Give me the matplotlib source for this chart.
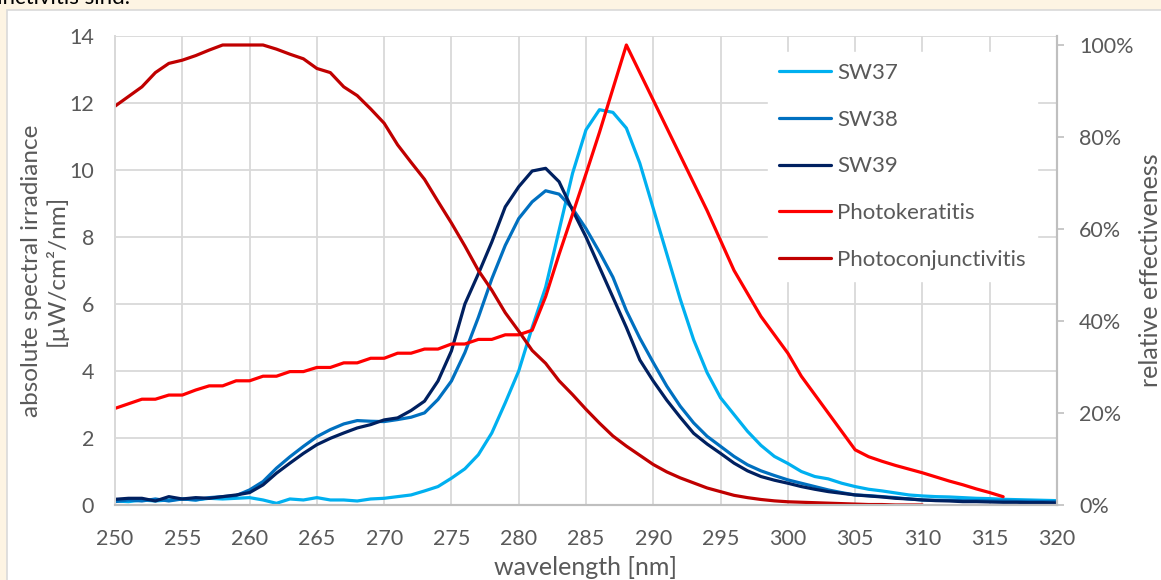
import matplotlib
matplotlib.use("Agg")
import matplotlib.pyplot as plt
from matplotlib.patches import Rectangle
from matplotlib.ticker import FuncFormatter

plt.rcParams['font.family'] = ['Lato', 'DejaVu Sans']

# ---------------- data ----------------
wl = list(range(250, 321))

sw37 = [0.12, 0.10, 0.15, 0.12, 0.15, 0.18, 0.15, 0.20, 0.18, 0.20,
        0.22, 0.15, 0.05, 0.18, 0.15, 0.22, 0.15, 0.15, 0.12, 0.18,
        0.20, 0.25, 0.30, 0.42, 0.55, 0.80, 1.08, 1.50, 2.15, 3.05,
        4.00, 5.30, 6.50, 8.20, 9.90, 11.20, 11.80, 11.72, 11.25, 10.20,
        8.85, 7.50, 6.15, 4.93, 3.95, 3.20, 2.70, 2.20, 1.78, 1.45,
        1.24, 1.00, 0.85, 0.78, 0.65, 0.55, 0.47, 0.42, 0.36, 0.30,
        0.27, 0.25, 0.24, 0.22, 0.20, 0.19, 0.17, 0.16, 0.15, 0.14,
        0.13]

sw38 = [0.10, 0.15, 0.12, 0.18, 0.12, 0.18, 0.15, 0.22, 0.25, 0.28,
        0.45, 0.70, 1.10, 1.44, 1.75, 2.04, 2.25, 2.42, 2.52, 2.50,
        2.49, 2.55, 2.62, 2.75, 3.15, 3.70, 4.55, 5.60, 6.75, 7.75,
        8.55, 9.05, 9.38, 9.28, 8.85, 8.25, 7.55, 6.80, 5.80, 4.98,
        4.25, 3.55, 2.95, 2.45, 2.05, 1.75, 1.45, 1.20, 1.02, 0.88,
        0.75, 0.65, 0.55, 0.45, 0.37, 0.30, 0.28, 0.25, 0.22, 0.18,
        0.15, 0.14, 0.14, 0.13, 0.13, 0.12, 0.12, 0.11, 0.11, 0.10,
        0.10]

sw39 = [0.17, 0.20, 0.20, 0.12, 0.25, 0.18, 0.22, 0.20, 0.25, 0.30,
        0.37, 0.60, 0.95, 1.25, 1.54, 1.80, 1.99, 2.15, 2.30, 2.40,
        2.54, 2.60, 2.82, 3.10, 3.70, 4.60, 6.00, 6.90, 7.85, 8.90,
        9.50, 9.97, 10.05, 9.65, 8.80, 8.00, 7.10, 6.20, 5.30, 4.33,
        3.70, 3.13, 2.62, 2.14, 1.82, 1.54, 1.25, 1.02, 0.85, 0.74,
        0.65, 0.55, 0.47, 0.40, 0.35, 0.30, 0.27, 0.24, 0.20, 0.18,
        0.15, 0.13, 0.12, 0.10, 0.10, 0.09, 0.08, 0.08, 0.07, 0.07,
        0.06]

kera_wl = list(range(250, 317))
kera = [0.210, 0.220, 0.230, 0.230, 0.239, 0.239, 0.250, 0.259, 0.259, 0.270,
        0.270, 0.280, 0.280, 0.290, 0.290, 0.299, 0.299, 0.309, 0.309, 0.319,
        0.319, 0.330, 0.330, 0.339, 0.339, 0.350, 0.350, 0.360, 0.360, 0.370,
        0.370, 0.380, 0.453, 0.545, 0.632, 0.720, 0.810, 0.905, 1.000, 0.940,
        0.880, 0.820, 0.760, 0.700, 0.640, 0.575, 0.510, 0.460, 0.410, 0.370,
        0.330, 0.280, 0.240, 0.200, 0.160, 0.120, 0.105, 0.095, 0.086, 0.078,
        0.070, 0.061, 0.052, 0.044, 0.035, 0.027, 0.018]

conj_wl = list(range(250, 311))
conj = [0.867, 0.888, 0.909, 0.940, 0.960, 0.967, 0.977, 0.989, 1.000, 1.000,
        1.000, 1.000, 0.991, 0.980, 0.970, 0.949, 0.940, 0.909, 0.890, 0.861,
        0.830, 0.783, 0.745, 0.708, 0.660, 0.613, 0.563, 0.510, 0.467, 0.418,
        0.378, 0.336, 0.308, 0.270, 0.240, 0.208, 0.178, 0.150, 0.128, 0.108,
        0.088, 0.072, 0.059, 0.048, 0.037, 0.029, 0.021, 0.016, 0.012, 0.009,
        0.007, 0.006, 0.005, 0.004, 0.003, 0.002, 0.001, 0.001, 0.000, 0.000,
        0.000]

x_ticks = list(range(250, 321, 5))
y_ticks = list(range(0, 15, 2))
pct_ticks = [0.0, 0.2, 0.4, 0.6, 0.8, 1.0]

# ---------------- figure ----------------
W, H = 1161, 580
fig = plt.figure(figsize=(W / 100, H / 100), dpi=100)
fig.patch.set_facecolor('#FDF4E3')

fig.add_artist(Rectangle((7 / W, -0.05), 1.1, 1 - 10 / H + 0.05,
                         transform=fig.transFigure, facecolor='white',
                         edgecolor='#D9D9D9', linewidth=1.2, zorder=-5))
fig.text(130 / W, 1 - 4 / H, 'Augenentzündungen wie Photokonjunctivitis sind.',
         ha='right', va='baseline', fontsize=16, color='black')

left, right = 115 / W, 1057 / W
bottom, top = 1 - 505 / H, 1 - 36 / H
ax = fig.add_axes([left, bottom, right - left, top - bottom])
ax2 = ax.twinx()

txt = '#595959'
grid_c = '#D9D9D9'
axis_c = '#BFBFBF'
lw = 2.3

l37, = ax.plot(wl, sw37, color='#00B0F0', lw=lw, label='SW37', solid_capstyle='round')
l38, = ax.plot(wl, sw38, color='#0070C0', lw=lw, label='SW38', solid_capstyle='round')
l39, = ax.plot(wl, sw39, color='#002060', lw=lw, label='SW39', solid_capstyle='round')
lk, = ax2.plot(kera_wl, kera, color='#FF0000', lw=lw, label='Photokeratitis', solid_capstyle='round')
lc, = ax2.plot(conj_wl, conj, color='#C00000', lw=lw, label='Photoconjunctivitis', solid_capstyle='round')

ax.set_xlim(250, 320)
ax.set_ylim(0, 14)
ax.set_xticks(x_ticks)
ax.set_yticks(y_ticks)
ax.grid(True, color=grid_c, lw=1.3)
ax.set_axisbelow(True)
ax.tick_params(axis='both', length=0, labelsize=15.5, labelcolor=txt)
ax.tick_params(axis='x', pad=17)
ax.tick_params(axis='y', pad=15)

ax2.set_ylim(0, 469 / 460)
ax2.set_yticks(pct_ticks)
ax2.yaxis.set_major_formatter(FuncFormatter(lambda v, p: f'{v * 100:.0f}%'))
ax2.tick_params(axis='y', length=5, width=1.2, color=axis_c, labelsize=15.5,
                labelcolor=txt, pad=11)

for a in (ax, ax2):
    a.spines['top'].set_visible(False)
    a.spines['left'].set_color(grid_c)
    a.spines['left'].set_linewidth(1.3)
    a.spines['bottom'].set_color(axis_c)
    a.spines['bottom'].set_linewidth(1.5)
    a.spines['right'].set_color(axis_c)
    a.spines['right'].set_linewidth(1.5)

ax.set_xlabel('wavelength [nm]', fontsize=18, color=txt)
ax.xaxis.set_label_coords(0.5, -(556 - 505) / (505 - 36))
ax.set_ylabel('absolute spectral irradiance\n[µW/cm²/nm]', fontsize=17.5,
              color=txt, linespacing=1.15)
ax.yaxis.set_label_coords((68 - 115) / (1057 - 115), 0.5)
ax2.set_ylabel('relative effectiveness', fontsize=18, color=txt)
ax2.yaxis.set_label_coords((1139 - 115) / (1057 - 115), 0.5)

leg = ax2.legend(handles=[l37, l38, l39, lk, lc], loc='upper left',
                 bbox_to_anchor=((768 - 115) / (1057 - 115), 1 - (52 - 36) / (505 - 36)),
                 fontsize=16, frameon=True, facecolor='white', edgecolor='white',
                 framealpha=1, fancybox=False, handlelength=2.35, handletextpad=0.25,
                 labelspacing=1.2, borderpad=0.5, borderaxespad=0)
for t in leg.get_texts():
    t.set_color(txt)

fig.savefig('out.png', dpi=100, facecolor=fig.get_facecolor())
